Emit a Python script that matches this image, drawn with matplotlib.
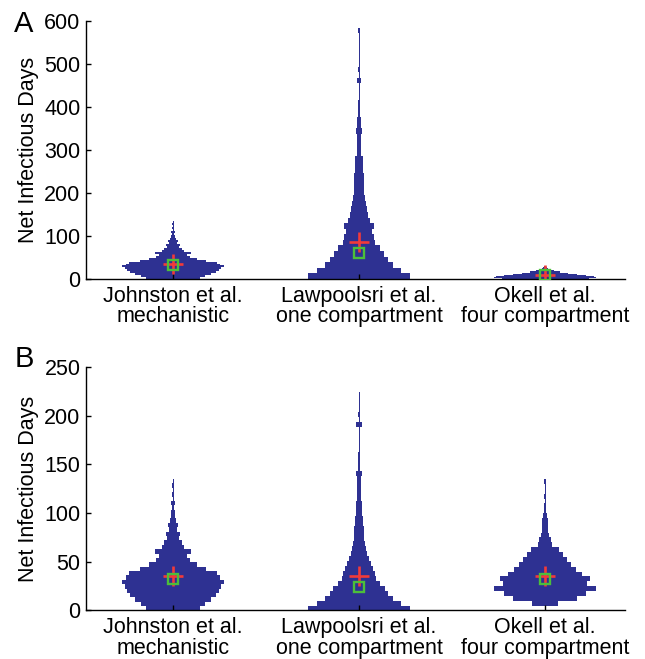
import numpy as np
import matplotlib.pyplot as plt

plt.rcParams['font.family'] = ['Liberation Sans', 'DejaVu Sans']

groups = ['Johnston et al.\nmechanistic', 'Lawpoolsri et al.\none compartment', 'Okell et al.\nfour compartment']
positions = [1, 2, 3]

# histogram bar widths relative to the widest bin (100)
# Johnston model (same in both panels), bins of 4.5 days from 0
johnston_start, johnston_step = 0, 4.5
johnston = [53, 63, 75, 84, 90, 94, 100, 92, 86, 64, 46, 34, 28, 36, 22,
            18, 12, 13, 8, 9, 5, 4, 3, 2, 3, 1.0, 1.5, 1.0, 2, 1.0]

# panel A
law_a_start, law_a_step = 0, 13
law_a = [100, 83, 67, 56, 48, 41, 32, 29, 25, 29, 22, 18, 15, 14, 12,
         10, 10, 9, 9, 8, 7, 7, 4.5, 4, 4.5, 3.5, 5, 4.4, 3.4, 2.6,
         2.4, 1.5, 1.0, 1.0, 1.0, 3, 1.0, 1.5, 1.0, 1.0, 1.0, 1.0, 1.0, 1.0, 2]
okell_a_start, okell_a_step = 0, 2.5
okell_a = [85, 100, 95, 80, 62, 45, 30, 18, 10, 5, 3, 2]

# panel B
law_b_start, law_b_step = 0, 5.1
law_b = [100, 83, 67, 57, 51, 41, 33, 31, 27, 24, 20, 16, 14, 12, 10,
         9, 9, 8, 8, 6, 6, 6.5, 4.4, 4, 3.6, 3.6, 3, 5, 2.4, 2.4,
         2.4, 2, 1.0, 1.0, 1.0, 1.0, 1.0, 5, 1.0, 1.8, 1.0, 1.0, 1.0, 1.0]
okell_b_start, okell_b_step = 5, 5
okell_b = [25, 62, 80, 100, 82, 88, 72, 60, 50, 43, 36, 27, 14, 12, 8,
           6, 6.5, 5, 3.3, 2.5, 2, 1.0, 1.8, 1.0, 1.0, 1.8]

means_a = [35, 87, 10]
medians_a = [32, 60, 9]
means_b = [35, 35.5, 35.5]
medians_b = [32, 24, 32]

blue = '#2e3192'
red = '#f23a3a'
green = '#4cbf3a'
half_width = 0.275
fs = 15.5


def draw_hist(ax, pos, start, step, counts):
    counts = np.asarray(counts, dtype=float)
    edges = start + step * np.arange(len(counts) + 1)
    hw = counts / counts.max() * half_width
    hw = np.append(hw, hw[-1])
    ax.fill_betweenx(edges, pos - hw, pos + hw, step='post', color=blue, lw=0)


def style(ax, ymax, ystep):
    ax.set_xlim(0.532, 3.43)
    ax.set_ylim(0, ymax)
    ax.set_yticks(np.arange(0, ymax + 1, ystep))
    ax.set_xticks(positions)
    ax.set_xticklabels(groups, linespacing=0.95)
    ax.spines['top'].set_visible(False)
    ax.spines['right'].set_visible(False)
    ax.spines['left'].set_linewidth(1.0)
    ax.spines['bottom'].set_linewidth(1.0)
    ax.tick_params(direction='in', length=3.5, width=1.0, labelsize=fs, pad=4)
    ax.tick_params(axis='x', pad=5)
    ax.set_ylabel('Net Infectious Days', fontsize=fs, labelpad=4)


fig = plt.figure(figsize=(6.45, 6.59), dpi=100)
ax_a = fig.add_axes([0.1333, 0.5766, 0.8357, 0.3914])
ax_b = fig.add_axes([0.1333, 0.0736, 0.8357, 0.3694])

panel_a = [(johnston_start, johnston_step, johnston),
           (law_a_start, law_a_step, law_a),
           (okell_a_start, okell_a_step, okell_a)]
panel_b = [(johnston_start, johnston_step, johnston),
           (law_b_start, law_b_step, law_b),
           (okell_b_start, okell_b_step, okell_b)]

for ax, hists, means, medians in [(ax_a, panel_a, means_a, medians_a),
                                  (ax_b, panel_b, means_b, medians_b)]:
    for pos, (start, step, counts), m, md in zip(positions, hists, means, medians):
        draw_hist(ax, pos, start, step, counts)
        ax.plot(pos, m, '+', color=red, ms=14, mew=1.9, zorder=3)
        ax.plot(pos, md, 's', mfc='none', mec=green, ms=6.5, mew=1.7, zorder=4)

style(ax_a, 600, 100)
style(ax_b, 250, 50)

fig.text(0.022, 0.951, 'A', fontsize=21)
fig.text(0.022, 0.443, 'B', fontsize=21)

fig.savefig('out.png', dpi=100)
